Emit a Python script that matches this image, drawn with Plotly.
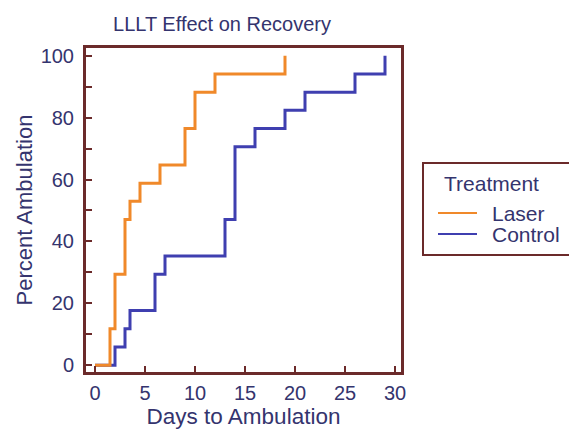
import plotly.graph_objects as go

# Data
laser_days = [0, 1.5, 2, 3, 3.5, 4.5, 6.5, 9, 10, 12, 19]
laser_pct = [0, 11.76, 29.41, 47.06, 52.94, 58.82, 64.71, 76.47, 88.24, 94.12, 100]
control_days = [0, 2, 3, 3.5, 6, 7, 13, 14, 16, 19, 21, 26, 29]
control_pct = [0, 5.88, 11.76, 17.65, 29.41, 35.29, 47.06, 70.59, 76.47, 82.35, 88.24, 94.12, 100]
x_ticks = [0, 5, 10, 15, 20, 25, 30]
y_ticks = [0, 20, 40, 60, 80, 100]
series_names = ["Laser", "Control"]
legend_title = "Treatment"

ORANGE = "#F0892A"
BLUE = "#3F3FB0"
FRAME = "#6B2A2A"
TEXT = "#34346E"
FONT = "Liberation Sans, Arial, sans-serif"

# page body has an 8px margin; figure is sized to fit the window
W, H = 569, 427
L, R, T, B = 78, 176, 40, 63
PW, PH = W - L - R, H - T - B


def px_x(X):  # screen px -> paper x (relative to plot area)
    return (X - 8 - L) / PW


def px_y(Y):
    return (H - B - (Y - 8)) / PH


fig = go.Figure()
fig.add_trace(go.Scatter(x=control_days, y=control_pct, mode="lines", name=series_names[1],
                         line=dict(color=BLUE, width=3, shape="hv"), showlegend=False))
fig.add_trace(go.Scatter(x=laser_days, y=laser_pct, mode="lines", name=series_names[0],
                         line=dict(color=ORANGE, width=3, shape="hv"), showlegend=False))

axis_common = dict(
    showline=True, mirror=True, linecolor=FRAME, linewidth=3,
    ticks="inside", ticklen=6, tickwidth=2, tickcolor=FRAME,
    showgrid=False, zeroline=False,
    tickfont=dict(family=FONT, size=20, color=TEXT),
)

# legend box, drawn as decoration around text
shapes = [dict(type="rect", xref="paper", yref="paper",
               x0=px_x(423), x1=px_x(576), y0=px_y(255), y1=px_y(163),
               line=dict(color=FRAME, width=2), fillcolor="white", layer="below")]
annotations = [dict(text=legend_title, xref="paper", yref="paper", x=px_x(442), y=px_y(183),
                    xanchor="left", yanchor="middle", showarrow=False,
                    font=dict(family=FONT, size=21, color=TEXT))]
for name, color, ypix in [(series_names[0], ORANGE, 213), (series_names[1], BLUE, 234)]:
    shapes.append(dict(type="line", xref="paper", yref="paper",
                       x0=px_x(438), x1=px_x(477), y0=px_y(ypix), y1=px_y(ypix),
                       line=dict(color=color, width=2)))
    annotations.append(dict(text=name, xref="paper", yref="paper", x=px_x(490), y=px_y(ypix),
                            xanchor="left", yanchor="middle", showarrow=False,
                            font=dict(family=FONT, size=21, color=TEXT)))

fig.update_layout(
    width=W, height=H,
    margin=dict(l=L, r=R, t=T, b=B),
    paper_bgcolor="white", plot_bgcolor="white",
    font=dict(family=FONT, color=TEXT),
    title=dict(text="LLLT Effect on Recovery", x=(222 - 8) / W, xanchor="center",
               y=1 - (24 - 8) / H, yanchor="middle",
               font=dict(family=FONT, size=20, color=TEXT)),
    xaxis=dict(range=[-0.9, 30.6], tickvals=x_ticks, ticklabelstandoff=1,
               title=dict(text="Days to Ambulation", standoff=0,
                          font=dict(family=FONT, size=22.5, color=TEXT)),
               **axis_common),
    yaxis=dict(range=[-2.2, 102.5], tickvals=y_ticks, ticklabelstandoff=5,
               minor=dict(dtick=10, tick0=0, ticks="inside", ticklen=6, tickwidth=2,
                          tickcolor=FRAME, showgrid=False),
               title=dict(text="Percent Ambulation", standoff=2,
                          font=dict(family=FONT, size=22, color=TEXT)),
               **axis_common),
    shapes=shapes,
    annotations=annotations,
    showlegend=False,
)

fig.write_html("out.html")
